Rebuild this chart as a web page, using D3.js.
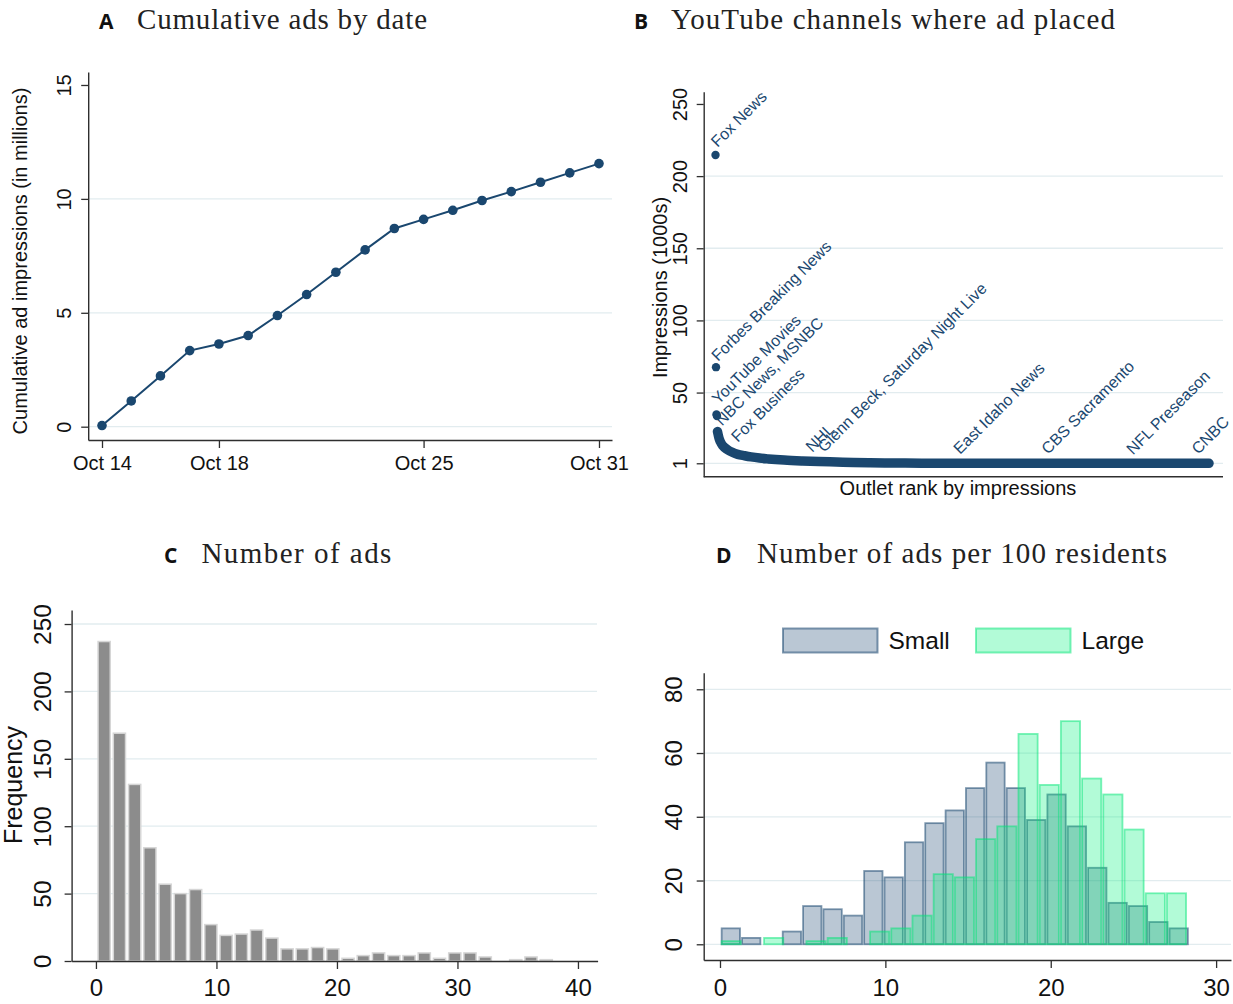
<!DOCTYPE html>
<html><head><meta charset="utf-8">
<script src="https://cdn.jsdelivr.net/npm/d3@7"></script>
<style>html,body{margin:0;padding:0;background:#fff}svg{display:block}</style>
</head><body>
<svg id="chart" width="1233" height="1004"></svg>
<script>
// ---------- DATA ----------
// Panel A: cumulative ad impressions (millions), Oct 14..31
const days = [14,15,16,17,18,19,20,21,22,23,24,25,26,27,28,29,30,31];
const cumulativeImpressions = [0.05,1.13,2.23,3.34,3.63,4.0,4.88,5.8,6.78,7.76,8.7,9.1,9.5,9.93,10.32,10.73,11.14,11.55];
const dateTickDays = [14,18,25,31];
const dateTickLabels = ["Oct 14","Oct 18","Oct 25","Oct 31"];
const yTicksA = [0,5,10,15];

// Panel B: outlet impressions (1000s) by rank
const topRanks = [1,2,3,4];
const topValues = [214.6,67.6,34.8,33.8];
const curveRanks = [5,6,8,11,16,25,35,46,60,73,90,108,140,177,210,246,280,314,350,385,450,577,700,850,1000];
const curveValues = [23,21.5,18.5,15.8,13,10.5,8.6,7.2,6.2,5.4,4.6,4.0,3.2,2.6,2.2,1.9,1.6,1.4,1.25,1.12,1.06,1.02,1.0,1.0,1.0];
const outletLabels = ["Fox News","Forbes Breaking News","YouTube Movies","NBC News, MSNBC","Fox Business","NHL","Glenn Beck, Saturday Night Live","East Idaho News","CBS Sacramento","NFL Preseason","CNBC"];
const labelRanks = [1,2,3,10,42,193,217,492,670,842,974];
const labelValues = [214.6,66.3,36.5,21.6,10.2,3.3,3.3,1.9,1.9,1.6,1.9];
const yTicksB = [1,50,100,150,200,250];

// Panel C: histogram of number of ads
const adsBinStart = 0.05, adsBinWidth = 1.265;
const adsCounts = [237,169,131,84,57,50,53,27,19,20,23,17,9,9,10,9,2,4,6,4,4,6,2,6,6,3,0,1,3,1];
const xTicksC = [0,10,20,30,40];
const yTicksC = [0,50,100,150,200,250];

// Panel D: ads per 100 residents, Small vs Large
const groups = ["Small","Large"];
const smallBinStart = 0.04, smallBinWidth = 1.231;
const smallCounts = [5,2,0,4,12,11,9,23,21,32,38,42,49,57,49,39,47,37,24,13,12,7,5];
const largeBinStart = 0.04, largeBinWidth = 1.282;
const largeCounts = [1,0,2,0,1,2,0,4,5,9,22,21,33,37,66,50,70,52,47,36,16,16];
const xTicksD = [0,10,20,30];
const yTicksD = [0,20,40,60,80];

// ---------- STYLE ----------
const svg = d3.select("#chart");
const NAVY = "#1a476f";
const AXIS = "#2e2e2e";
const GRID = "#e2ecef";
const SANS = "'Liberation Sans', Arial, Helvetica, sans-serif";
const SERIF = "'Liberation Serif', 'Times New Roman', serif";
const LETTER = "'Open Sans', 'DejaVu Sans', sans-serif";

function title(letter, lx, text, tx, tw, y){
  svg.append("text").attr("x",lx).attr("y",y).attr("font-family",LETTER)
    .attr("font-weight",700).attr("font-size",21).attr("fill","#111").text(letter);
  svg.append("text").attr("x",tx).attr("y",y).attr("font-family",SERIF)
    .attr("font-size",29).attr("fill","#222").attr("textLength",tw)
    .attr("lengthAdjust","spacing").text(text);
}
function styleAxis(g){
  g.select(".domain").attr("stroke",AXIS).attr("stroke-width",1.4);
  g.selectAll(".tick line").attr("stroke",AXIS).attr("stroke-width",1.3);
  g.selectAll("text").attr("fill","#111").attr("font-family",SANS);
}
function yAxis(scale, ticks, axisX, labelCx, fontSize, grid, x0, x1, gridSkip){
  if (grid){
    svg.append("g").selectAll("line").data(ticks.filter(t=>!gridSkip.includes(t))).join("line")
      .attr("x1",x0).attr("x2",x1).attr("y1",d=>scale(d)).attr("y2",d=>scale(d))
      .attr("stroke",GRID).attr("stroke-width",1.3);
  }
  const g = svg.append("g").attr("transform",`translate(${axisX},0)`)
    .call(d3.axisLeft(scale).tickValues(ticks).tickSize(7).tickSizeOuter(0));
  styleAxis(g);
  g.selectAll(".tick text").attr("font-size",fontSize).attr("text-anchor","middle")
    .attr("x",0).attr("y",0).attr("dy","0.36em")
    .attr("transform",`translate(${labelCx-axisX},0) rotate(-90)`);
  return g;
}
function xAxis(scale, ticks, fmt, axisY, labelCy, fontSize){
  const g = svg.append("g").attr("transform",`translate(0,${axisY})`)
    .call(d3.axisBottom(scale).tickValues(ticks).tickSize(8).tickSizeOuter(0).tickFormat(fmt));
  styleAxis(g);
  g.selectAll(".tick text").attr("font-size",fontSize).attr("y",labelCy-axisY).attr("dy","0.36em");
  return g;
}

// ---------- PANEL A ----------
title("A", 99, "Cumulative ads by date", 137, 290, 28.5);
const xA = d3.scaleLinear().domain([13.528,31.445]).range([88.2,612]);
const yA = d3.scaleLinear().domain([-0.584,15.57]).range([440,72]);
yAxis(yA, yTicksA, 88.2, 63.6, 20, true, 89, 612, [15]);
xAxis(xA, dateTickDays, (d,i)=>dateTickLabels[i], 440, 463, 20);
svg.append("text").attr("transform","translate(20,261) rotate(-90)").attr("text-anchor","middle")
  .attr("dy","0.36em").attr("font-family",SANS).attr("font-size",20).attr("fill","#111")
  .text("Cumulative ad impressions (in millions)");
const lineA = d3.line().x((d,i)=>xA(days[i])).y(d=>yA(d));
svg.append("path").attr("d",lineA(cumulativeImpressions)).attr("fill","none")
  .attr("stroke",NAVY).attr("stroke-width",2);
svg.append("g").selectAll("circle").data(cumulativeImpressions).join("circle")
  .attr("cx",(d,i)=>xA(days[i])).attr("cy",d=>yA(d)).attr("r",4.8).attr("fill",NAVY);

// ---------- PANEL B ----------
title("B", 634, "YouTube channels where ad placed", 671, 444, 28.5);
const xB = d3.scaleLinear().domain([-22.9,1028.3]).range([703.7,1223]);
const yB = d3.scaleLinear().domain([-8.3,258.5]).range([476.7,91.7]);
yAxis(yB, yTicksB, 703.7, 679.4, 20, true, 704, 1223, [250]);
svg.append("line").attr("x1",703.7).attr("x2",1223).attr("y1",476.7).attr("y2",476.7)
  .attr("stroke",AXIS).attr("stroke-width",1.4);
svg.append("text").attr("x",958).attr("y",487.3).attr("dy","0.36em").attr("text-anchor","middle")
  .attr("font-family",SANS).attr("font-size",20).attr("fill","#111").text("Outlet rank by impressions");
svg.append("text").attr("transform","translate(659.3,287.5) rotate(-90)").attr("text-anchor","middle")
  .attr("dy","0.36em").attr("font-family",SANS).attr("font-size",20).attr("fill","#111")
  .text("Impressions (1000s)");
const lineB = d3.line().x((d,i)=>xB(curveRanks[i])).y(d=>yB(d)).curve(d3.curveMonotoneX);
svg.append("path").attr("d",lineB(curveValues)).attr("fill","none").attr("stroke",NAVY)
  .attr("stroke-width",9.5).attr("stroke-linecap","round").attr("stroke-linejoin","round");
svg.append("g").selectAll("circle").data(topValues).join("circle")
  .attr("cx",(d,i)=>xB(topRanks[i])).attr("cy",d=>yB(d)).attr("r",4.2).attr("fill",NAVY);
svg.append("g").selectAll("text").data(outletLabels).join("text")
  .attr("transform",(d,i)=>`translate(${xB(labelRanks[i])+2},${yB(labelValues[i])-7}) rotate(-45)`)
  .attr("font-family",SANS).attr("font-size",16).attr("fill",NAVY).text(d=>d);

// ---------- PANEL C ----------
title("C", 164, "Number of ads", 201.4, 190, 563);
const xC = d3.scaleLinear().domain([-2.02,41.63]).range([71.6,597.6]);
const yC = d3.scaleLinear().domain([0,260.4]).range([961,610]);
yAxis(yC, yTicksC, 71.6, 42, 24.5, true, 72, 597, [0]);
svg.append("text").attr("transform","translate(13,785) rotate(-90)").attr("text-anchor","middle")
  .attr("dy","0.36em").attr("font-family",SANS).attr("font-size",25).attr("fill","#111").text("Frequency");
const barWC = (xC(adsBinWidth)-xC(0))*0.8;
svg.append("g").selectAll("rect").data(adsCounts.map((c,i)=>({c,i})).filter(d=>d.c>0)).join("rect")
  .attr("x",d=>xC(adsBinStart+(d.i+0.5)*adsBinWidth)-barWC/2).attr("width",barWC)
  .attr("y",d=>yC(d.c)).attr("height",d=>yC(0)-yC(d.c))
  .attr("fill","#8c8c8c").attr("stroke","#d6d6d6").attr("stroke-width",1.5);
xAxis(xC, xTicksC, d3.format("d"), 961, 987, 24);

// ---------- PANEL D ----------
title("D", 716, "Number of ads per 100 residents", 757, 410, 563);
const xD = d3.scaleLinear().domain([-0.985,30.9]).range([703.7,1231]);
const yD = d3.scaleLinear().domain([-4.93,85.2]).range([960,672.7]);
yAxis(yD, yTicksD, 703.7, 673, 24, true, 704, 1231, []);
const smallFill = "rgba(26,71,111,0.30)", smallStroke = "rgba(26,71,111,0.55)";
const largeFill = "rgba(0,242,122,0.30)", largeStroke = "rgba(0,230,118,0.50)";
function histD(counts, start, w, fill, stroke){
  svg.append("g").selectAll("rect").data(counts.map((c,i)=>({c,i})).filter(d=>d.c>0)).join("rect")
    .attr("x",d=>xD(start+d.i*w)+1).attr("width",d=>xD(start+(d.i+1)*w)-xD(start+d.i*w)-2)
    .attr("y",d=>yD(d.c)).attr("height",d=>yD(0)-yD(d.c))
    .attr("fill",fill).attr("stroke",stroke).attr("stroke-width",1.8);
}
histD(smallCounts, smallBinStart, smallBinWidth, smallFill, smallStroke);
histD(largeCounts, largeBinStart, largeBinWidth, largeFill, largeStroke);
xAxis(xD, xTicksD, d3.format("d"), 960, 987, 24);
// legend
const legX = [783,976];
const legFill = [smallFill, largeFill], legStroke = [smallStroke, largeStroke];
const leg = svg.append("g").selectAll("g").data(groups).join("g")
  .attr("transform",(d,i)=>`translate(${legX[i]},628.5)`);
leg.append("rect").attr("width",94.5).attr("height",24).attr("fill",(d,i)=>legFill[i])
  .attr("stroke",(d,i)=>legStroke[i]).attr("stroke-width",2);
leg.append("text").attr("x",105.5).attr("y",12).attr("dy","0.36em").attr("font-family",SANS)
  .attr("font-size",24.5).attr("fill","#111").text(d=>d);
</script>
</body></html>
